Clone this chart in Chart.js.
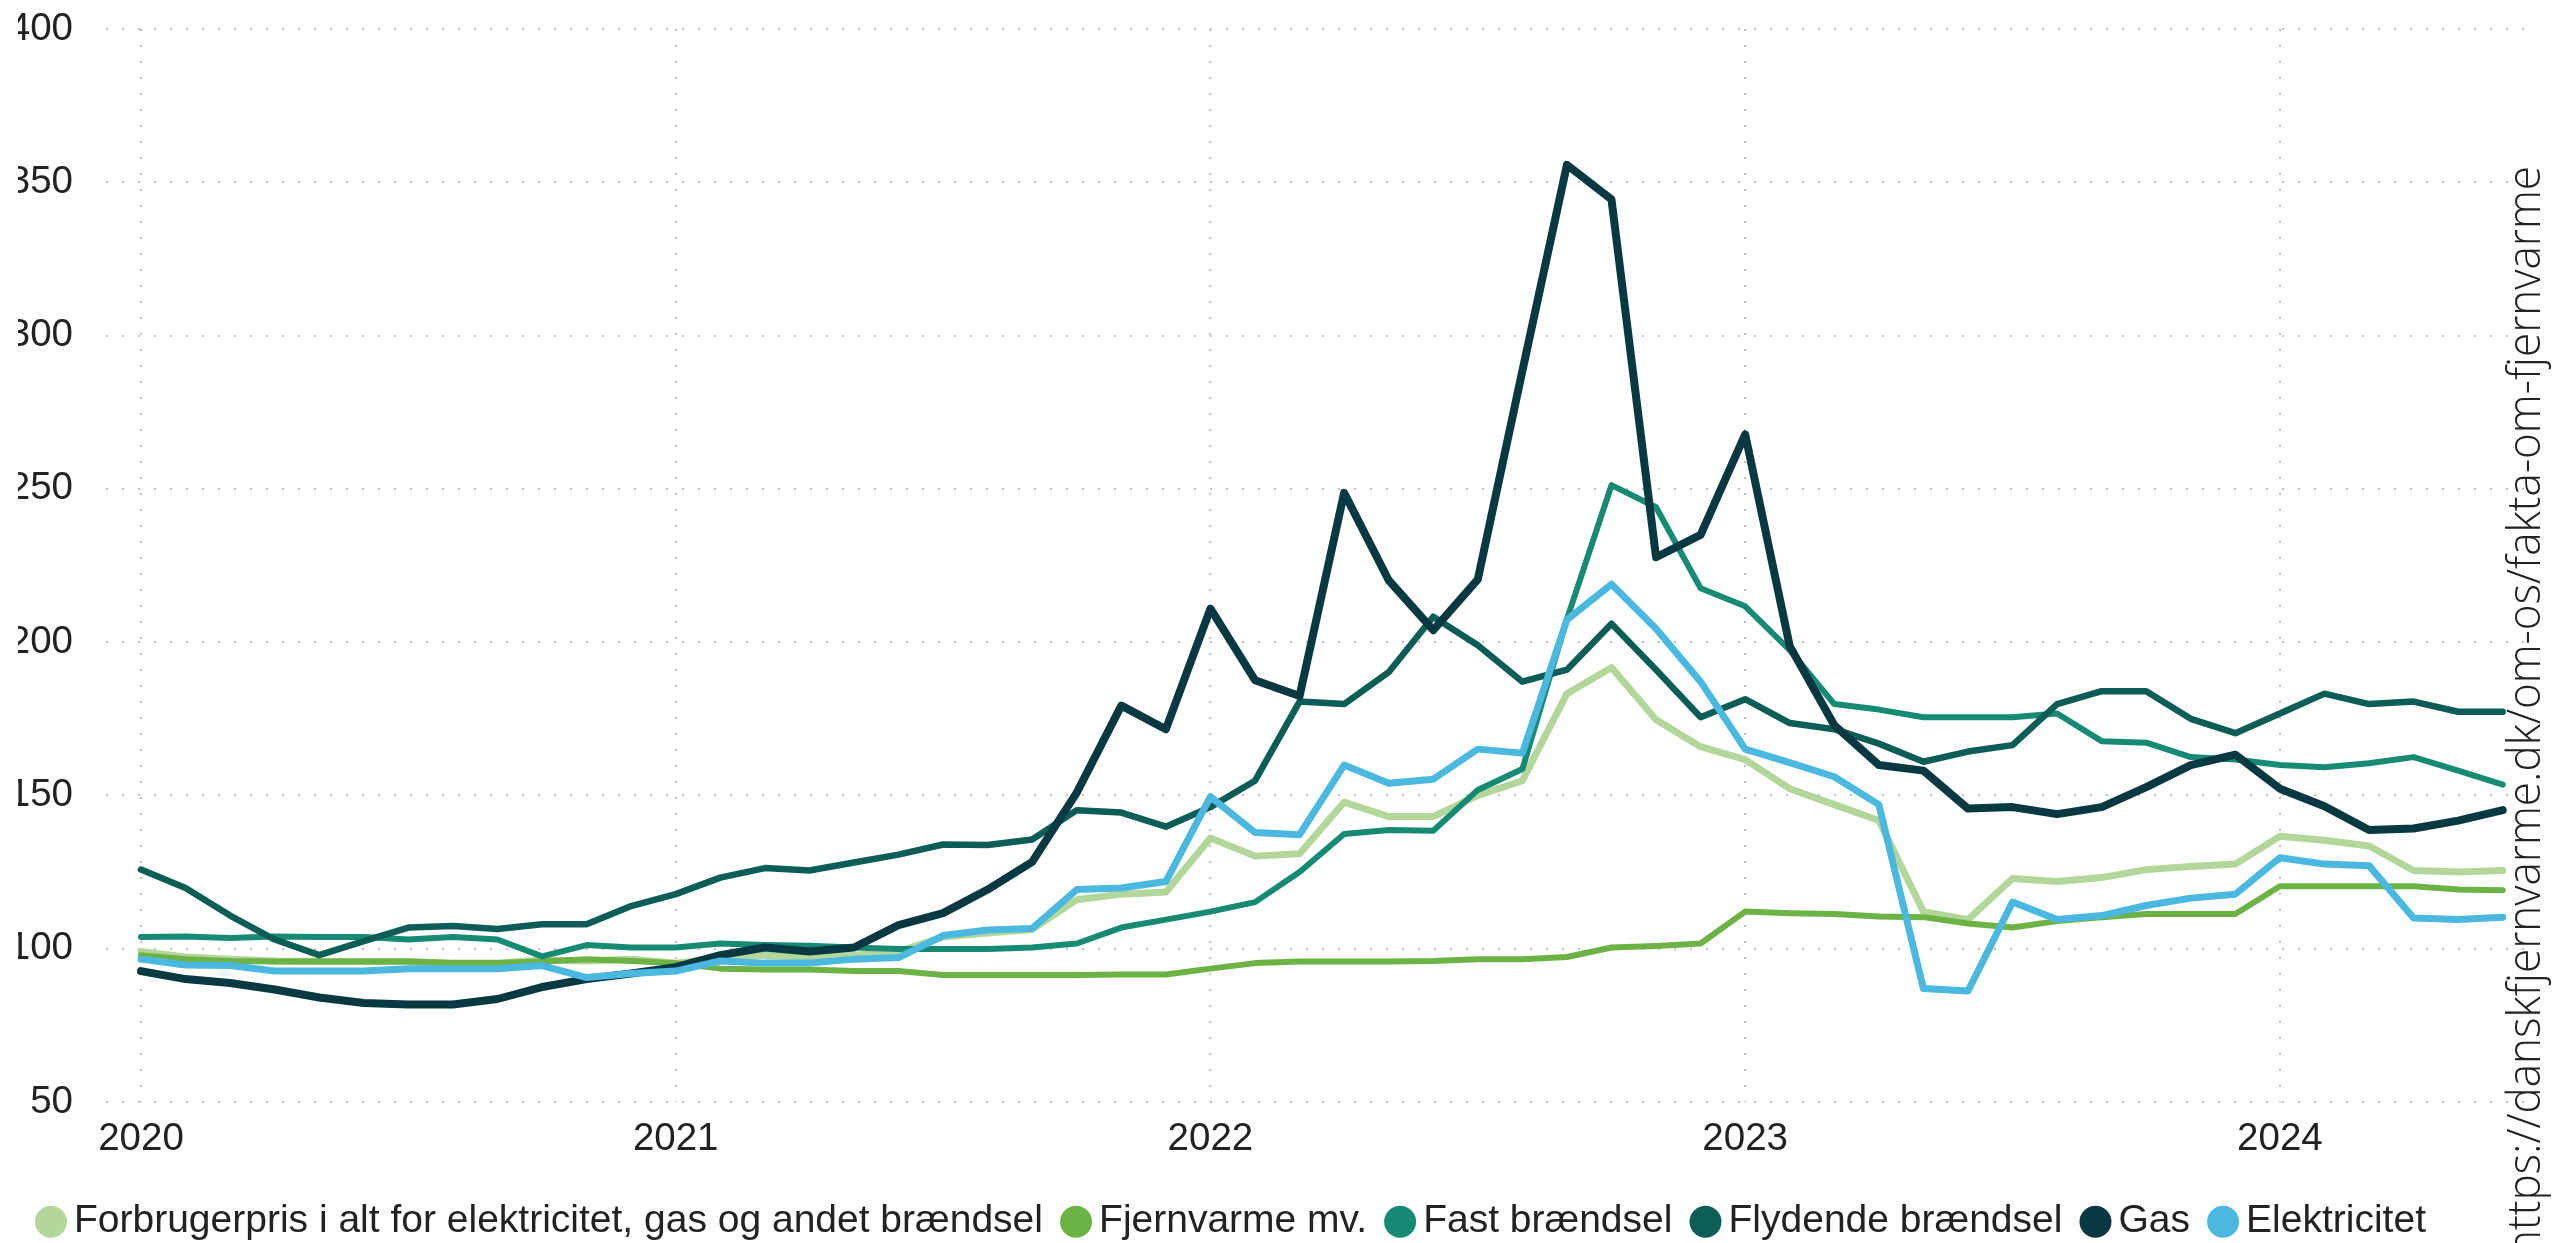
<!DOCTYPE html>
<html><head><meta charset="utf-8">
<script src="https://cdn.jsdelivr.net/npm/chart.js@4.4.0/dist/chart.umd.min.js"></script>
<style>html,body{margin:0;padding:0;background:#fff;overflow:hidden}#wrap{position:relative;width:2552px;height:1243px}canvas{display:block}</style>
</head><body><div id="wrap"><canvas id="c" width="2552" height="1243"></canvas></div>
<script>
const months = ['2020-01','2020-02','2020-03','2020-04','2020-05','2020-06','2020-07','2020-08','2020-09','2020-10','2020-11','2020-12',
'2021-01','2021-02','2021-03','2021-04','2021-05','2021-06','2021-07','2021-08','2021-09','2021-10','2021-11','2021-12',
'2022-01','2022-02','2022-03','2022-04','2022-05','2022-06','2022-07','2022-08','2022-09','2022-10','2022-11','2022-12',
'2023-01','2023-02','2023-03','2023-04','2023-05','2023-06','2023-07','2023-08','2023-09','2023-10','2023-11','2023-12',
'2024-01','2024-02','2024-03','2024-04','2024-05','2024-06'];
const yearTicks = ['2020','2021','2022','2023','2024'];
const yearTickPositions = [0, 12, 24, 36, 48];
const seriesNames = ['Forbrugerpris i alt for elektricitet, gas og andet brændsel','Fjernvarme mv.','Fast brændsel','Flydende brændsel','Gas','Elektricitet'];
const forbrugerpris = [99.1,97.3,96.6,96.0,95.8,95.8,95.8,95.3,95.3,96.3,96.0,96.6,
 95.3,97.1,97.9,97.1,97.9,99.1,103.8,105.1,106.3,116.0,117.8,118.5,
 136.1,130.2,131.0,147.8,143.1,143.1,150.0,154.8,183.2,191.7,174.7,165.9,
 161.7,152.2,147.0,141.8,112.1,109.5,122.9,121.9,123.2,125.8,126.8,127.6,
 136.7,135.4,133.5,125.5,125.0,125.5];
const fjernvarme = [97.9,96.6,96.0,95.8,95.8,95.8,95.8,95.3,95.3,95.8,96.6,96.0,
 95.3,93.5,93.2,93.2,92.7,92.7,91.4,91.4,91.4,91.4,91.6,91.6,
 93.5,95.3,95.8,95.8,95.8,96.0,96.6,96.6,97.3,100.4,100.9,101.7,
 112.1,111.6,111.3,110.5,110.3,108.2,106.9,109.0,110.3,111.3,111.3,111.3,
 120.4,120.4,120.4,120.4,119.3,119.1];
const fastBraendsel = [103.8,104.0,103.5,104.0,103.8,103.8,103.0,103.8,103.0,97.5,101.2,100.4,
 100.4,101.7,101.2,101.0,100.4,99.9,99.9,99.9,100.4,101.7,106.9,109.5,
 112.1,115.2,125.0,137.4,138.7,138.5,151.8,158.6,207.5,251.2,244.0,217.6,
 211.7,197.4,179.8,178.0,175.5,175.5,175.5,176.7,167.7,167.2,162.5,161.7,
 159.9,159.2,160.5,162.5,158.1,153.5];
const flydendeBraendsel = [125.8,119.8,110.8,103.0,97.9,102.5,106.9,107.4,106.4,108.0,108.0,113.9,
 117.8,123.2,126.3,125.5,128.1,130.7,134.0,133.8,135.6,145.2,144.4,139.8,
 146.2,154.8,180.6,179.8,190.2,208.3,199.0,187.1,191.0,206.0,191.0,175.5,
 181.4,173.6,171.6,166.9,161.0,164.3,166.4,179.8,184.0,184.0,175.0,170.3,
 176.7,183.2,179.8,180.6,177.3,177.3];
const gas = [92.7,90.1,88.8,86.7,84.1,82.3,81.8,81.8,83.6,87.5,90.1,91.9,
 94.0,97.9,100.4,99.1,100.4,107.7,111.6,119.3,128.3,150.9,179.3,171.6,
 210.9,187.6,182.4,248.7,220.2,203.9,220.5,288.5,355.7,344.4,227.7,235.0,
 267.8,198.7,172.9,159.9,158.1,145.7,146.2,143.9,146.2,152.7,159.9,163.3,
 152.2,146.5,138.7,139.2,141.8,145.2];
const elektricitet = [96.6,94.7,94.5,92.7,92.7,92.7,93.5,93.5,93.5,94.5,90.6,91.9,
 92.7,96.0,95.3,95.3,96.6,97.1,104.3,106.1,106.6,119.3,119.8,121.9,
 149.6,137.9,137.2,159.9,154.0,155.3,165.1,163.8,207.3,218.9,204.4,187.1,
 165.1,160.7,156.1,147.0,87.0,86.2,115.2,109.5,110.8,114.1,116.5,117.8,
 129.7,127.6,127.1,110.0,109.5,110.3];
const seriesValues = [forbrugerpris, fjernvarme, fastBraendsel, flydendeBraendsel, gas, elektricitet];
const seriesColors = ['#b3d69a','#6cb244','#178a74','#0d5d57','#083943','#4ab8df'];
const seriesWidths = [7,6,6,6.5,8,7];
const sourceText = 'https://danskfjernvarme.dk/om-os/fakta-om-fjernvarme';

const FONT = '"Liberation Sans", Arial, sans-serif';

const datasets = seriesNames.map((name, s) => ({
  label: name,
  data: seriesValues[s].map((v, i) => ({x: i, y: v})),
  borderColor: seriesColors[s],
  backgroundColor: seriesColors[s],
  borderWidth: seriesWidths[s],
  pointRadius: 0,
  pointHoverRadius: 0,
  tension: 0,
  fill: false,
  borderJoinStyle: 'round',
  borderCapStyle: 'round',
  order: seriesNames.length - s
}));

const sourcePlugin = {
  id: 'sourceText',
  afterDraw(chart) {
    const ctx = chart.ctx;
    ctx.save();
    ctx.font = '300 46px "Open Sans", sans-serif';
    const w = ctx.measureText(sourceText).width;
    const targetLen = 1090;
    ctx.translate(2540, 166);
    ctx.rotate(-Math.PI / 2);
    ctx.scale(targetLen / w, 1);
    ctx.fillStyle = '#222';
    ctx.textAlign = 'right';
    ctx.textBaseline = 'alphabetic';
    ctx.fillText(sourceText, 0, 0);
    ctx.restore();
  }
};

new Chart(document.getElementById('c'), {
  type: 'line',
  data: { labels: months, datasets },
  options: {
    responsive: false,
    animation: false,
    events: [],
    layout: { padding: { left: 17.9, right: 23, top: 29, bottom: -8.2 } },
    plugins: {
      tooltip: { enabled: false },
      legend: {
        position: 'bottom',
        align: 'start',
        labels: {
          usePointStyle: true,
          pointStyle: 'circle',
          boxWidth: 7,
          boxHeight: 22.6,
          padding: 29.6,
          color: '#222',
          font: { family: FONT, size: 39 },
          sort: (a, b) => a.datasetIndex - b.datasetIndex,
          generateLabels: (chart) => Chart.defaults.plugins.legend.labels.generateLabels(chart)
            .map(item => Object.assign(item, { lineWidth: 0 }))
        }
      }
    },
    scales: {
      x: {
        type: 'linear',
        min: -0.785,
        max: 53.59,
        afterBuildTicks: (scale) => { scale.ticks = yearTickPositions.map(v => ({value: v})); },
        afterFit: (scale) => { scale.height = 70.6; scale.paddingLeft = 0; scale.paddingRight = 0; },
        ticks: {
          autoSkip: false,
          maxRotation: 0,
          padding: 14,
          color: '#222',
          font: { family: FONT, size: 38.5 },
          callback: (v) => yearTicks[yearTickPositions.indexOf(v)]
        },
        grid: { color: '#c0c0c0', lineWidth: 2, drawTicks: false },
        border: { display: false, dash: [2, 14] }
      },
      y: {
        min: 50,
        max: 400,
        afterFit: (scale) => { scale.width = 88.1; scale.paddingTop = 0; scale.paddingBottom = 0; },
        ticks: {
          stepSize: 50,
          padding: 33,
          color: '#222',
          font: { family: FONT, size: 38.5 }
        },
        grid: { color: '#c0c0c0', lineWidth: 2, drawTicks: false },
        border: { display: false, dash: [2, 14] }
      }
    }
  },
  plugins: [sourcePlugin]
});
</script>
</body></html>
